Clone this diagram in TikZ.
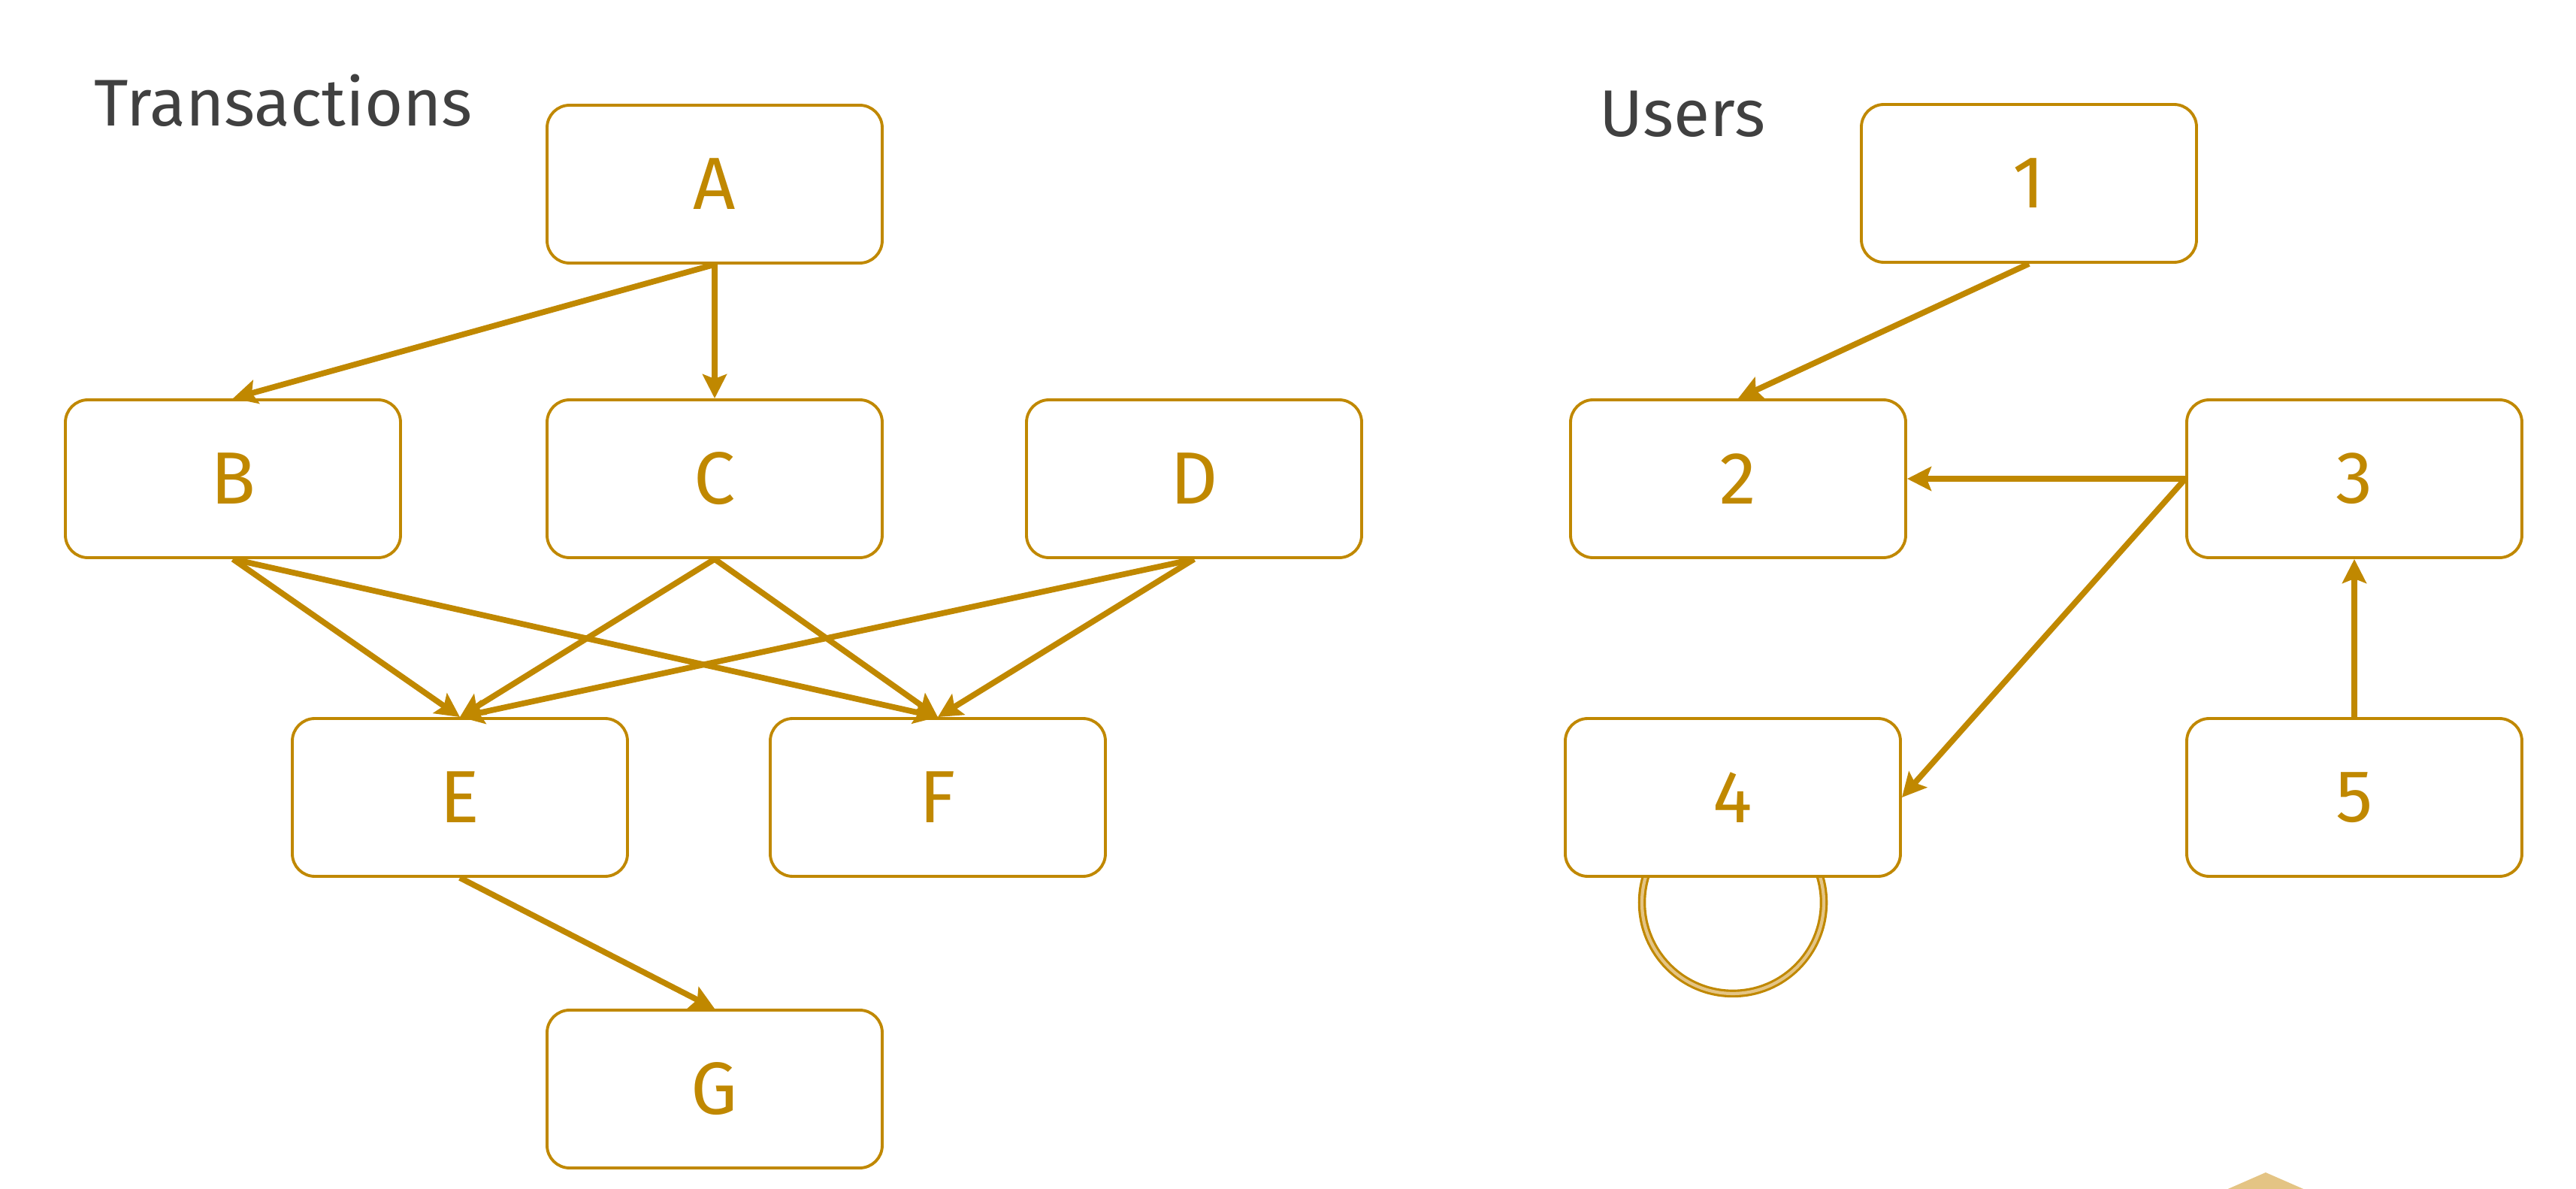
\documentclass[tikz,border=0pt]{standalone}
\usepackage{fontspec}
\setmainfont{Fira Sans}
\usetikzlibrary{arrows.meta, backgrounds}

\definecolor{gold}{RGB}{192,136,0}
\definecolor{paletan}{RGB}{228,196,132}
\definecolor{inkgrey}{RGB}{64,64,64}

\tikzset{
	box/.style={
		rectangle, rounded corners=0.3cm,
		draw=gold, line width=1.1pt, fill=white,
		minimum width=4.46cm, minimum height=2.1cm,
		text=gold, font=\fontsize{28}{33}\selectfont
	},
	link/.style={
		draw=gold, line width=2.2pt,
		-{Stealth[length=3.2mm, width=3.2mm, inset=0.6mm]}
	},
	heading/.style={anchor=base west, inner sep=0pt, text=inkgrey,
		font=\fontsize{25}{30}\selectfont}
}

\begin{document}
\begin{tikzpicture}
	\useasboundingbox (0,0) rectangle (34.28,-15.82);
	% titles
	\node[heading] (ttrans) at (1.25,-1.68) {Transactions};
	\node[heading] (tusers) at (21.28,-1.82) {Users};
	% transactions
	\node[box] (a) at (9.51,-2.45) {A};
	\node[box] (b) at (3.10,-6.37) {B};
	\node[box] (c) at (9.51,-6.37) {C};
	\node[box] (d) at (15.89,-6.37) {D};
	\node[box] (e) at (6.12,-10.61) {E};
	\node[box] (f) at (12.48,-10.61) {F};
	\node[box] (g) at (9.51,-14.49) {G};
	\draw[link] (a.south) -- (b.north);
	\draw[link] (a.south) -- (c.north);
	\draw[link] (b.south) -- (e.north);
	\draw[link] (b.south) -- (f.north);
	\draw[link] (c.south) -- (e.north);
	\draw[link] (c.south) -- (f.north);
	\draw[link] (d.south) -- (e.north);
	\draw[link] (d.south) -- (f.north);
	\draw[link] (e.south) -- (g.north);
	% users
	\node[box] (u1) at (27.00,-2.44) {1};
	\node[box] (u2) at (23.13,-6.37) {2};
	\node[box] (u3) at (31.33,-6.37) {3};
	\node[box] (u4) at (23.06,-10.61) {4};
	\node[box] (u5) at (31.33,-10.61) {5};
	\draw[link] (u1.south) -- (u2.north);
	\draw[link] (u3.west) -- (u2.east);
	\draw[link] (u3.west) -- (u4.east);
	\draw[link] (u5.north) -- (u3.south);
	\begin{scope}[on background layer]
		\draw[draw=gold, double=paletan, line width=0.9pt, double distance=1.2pt]
		([yshift=-0.33cm]u4.south) circle[radius=1.21cm];
	\end{scope}
	% cut-off shape at the lower edge
	\fill[paletan] (30.15,-15.60) -- (30.95,-15.95) -- (29.35,-15.95) -- cycle;
\end{tikzpicture}
\end{document}
